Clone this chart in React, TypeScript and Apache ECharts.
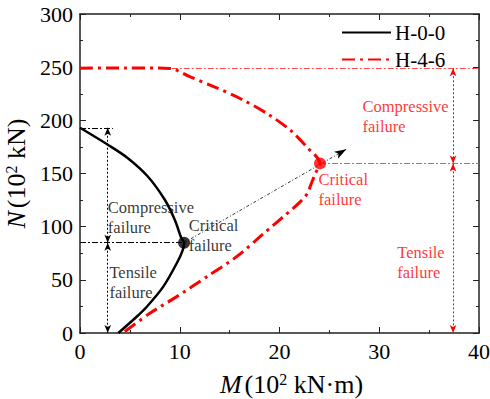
import React, { useEffect, useRef } from "react";
import * as echarts from "echarts";

// H-0-0 interaction curve (M in 10^2 kN·m, N in 10^2 kN)
const h00M = [0, 2.8, 4.8, 6.8, 8.5, 9.5, 10.15, 10.43, 10.3, 9.7, 8.35, 6.7, 5.68, 3.84];
const h00N = [193, 177, 164.4, 147.2, 125.3, 106.5, 89.5, 84.9, 78, 65.6, 43.6, 24.7, 15.3, 0];
// H-4-6 interaction curve
const h46M = [0, 4.5, 9.0, 11.0, 13.4, 16.0, 18.7, 21.05, 22.7, 24.06, 23.6, 23.2, 22.8, 22.2, 21.4, 20.4, 19.4, 18.4, 15.7, 13.0, 9.7, 7.0, 4.3];
const h46N = [249, 249.3, 248.8, 241.1, 231.7, 220.8, 206.7, 191, 175.3, 159.5, 150, 140.8, 131.4, 124.5, 117.5, 109.5, 101.5, 93.5, 71.8, 54.7, 34.2, 18.5, 0];
// critical (balanced) failure points
const critH00 = [10.43, 84.9];
const critH46 = [24.06, 159.5];
// squash loads
const squashH00 = 193;
const squashH46 = 249;
const seriesNames = ["H-0-0", "H-4-6"];

const FONT = "Liberation Serif";
const F = { fontFamily: FONT, fontStyle: "normal", fontWeight: "normal" };

export default function App() {
  const ref = useRef<HTMLDivElement>(null);
  useEffect(() => {
    if (!ref.current) return;
    const chart = echarts.init(ref.current, null, { renderer: "svg" });
    const blk = "#000";
    const red = "#ff0000";
    const thinRed = "#ff4d4d";
    const dashDot = [6, 2, 2, 2];
    const dotted = [2, 2];
    const seg = (a: number[], b: number[], color: string, type: any, s0: string, s1: string, width = 1) => [
      { coord: a, symbol: s0, symbolSize: [5, 8], lineStyle: { color, type, width } },
      { coord: b, symbol: s1, symbolSize: [5, 8] },
    ];
    const textStyle = (color: string) => ({
      show: true,
      position: [0, 0],
      align: "left",
      verticalAlign: "top",
      color,
      ...F,
      fontSize: 16.5,
      lineHeight: 20,
    });
    const rich = {
      i: { ...F, fontSize: 26, fontStyle: "italic", color: "#000", verticalAlign: "bottom" },
      n: { ...F, fontSize: 26, color: "#000", verticalAlign: "bottom" },
      s: { ...F, fontSize: 16, color: "#000", verticalAlign: "bottom", padding: [0, 0, 10, 0] },
    };
    const axisCommon = {
      min: 0,
      axisLine: { show: true, onZero: false, lineStyle: { color: "#222", width: 1.5 } },
      axisTick: { show: true, inside: true, length: 6, lineStyle: { color: "#222" } },
      minorTick: { show: true, splitNumber: 2, length: 3, lineStyle: { color: "#222" } },
      splitLine: { show: false },
    };
    chart.setOption({
      animation: false,
      textStyle: { ...F },
      grid: { left: 80, right: 11, top: 14, bottom: 66, outerBoundsMode: "none", containLabel: false },
      legend: {
        data: seriesNames,
        orient: "vertical",
        left: 336,
        top: 17,
        itemWidth: 49,
        itemHeight: 14,
        itemGap: 6,
        itemStyle: { opacity: 0 },
        textStyle: { ...F, fontSize: 21, color: "#000", padding: [0, 0, 0, -1] },
      },
      xAxis: [
        {
          ...axisCommon,
          type: "value",
          max: 40,
          interval: 10,
          axisLabel: { color: "#000", ...F, fontSize: 22, margin: 7 },
          name: "{i|M} {n|(10}{s|2}{n| kN·m)}",
          nameLocation: "middle",
          nameGap: 38,
          nameTextStyle: { ...F, padding: [0, 0, 0, 24], rich },
        },
        {
          ...axisCommon,
          type: "value",
          position: "top",
          max: 40,
          interval: 10,
          axisLabel: { show: false },
        },
      ],
      yAxis: [
        {
          ...axisCommon,
          type: "value",
          max: 300,
          interval: 50,
          axisLabel: { color: "#000", ...F, fontSize: 22, margin: 7 },
          name: "{i|N} {n|(10}{s|2}{n| kN)}",
          nameLocation: "middle",
          nameGap: 24,
          nameRotate: 90,
          nameTextStyle: { ...F, padding: [0, 0, 0, 0], rich },
        },
        {
          ...axisCommon,
          type: "value",
          position: "right",
          max: 300,
          interval: 50,
          axisLabel: { show: false },
        },
      ],
      series: [
        {
          name: seriesNames[0],
          type: "line",
          data: h00M.map((m, i) => [m, h00N[i]]),
          smooth: 0.3,
          symbol: "none",
          lineStyle: { color: blk, width: 2.5 },
          itemStyle: { color: blk },
          z: 5,
        },
        {
          name: seriesNames[1],
          type: "line",
          data: h46M.map((m, i) => [m, h46N[i]]),
          smooth: 0.3,
          symbol: "none",
          lineStyle: { color: red, width: 3, type: [13, 5, 3, 5] },
          itemStyle: { color: red },
          z: 5,
        },
        {
          name: "critical",
          type: "scatter",
          data: [
            { value: critH00, itemStyle: { color: blk } },
            { value: critH46, itemStyle: { color: red } },
          ],
          symbolSize: 12,
          z: 6,
        },
        {
          name: "annotations",
          type: "line",
          data: [],
          symbol: "none",
          silent: true,
          markLine: {
            silent: true,
            label: { show: false },
            symbol: ["none", "none"],
            data: [
              seg([0, squashH00], [3.3, squashH00], blk, dashDot, "none", "none"),
              seg([0, critH00[1]], critH00, blk, dashDot, "none", "none"),
              seg([2.78, squashH00], [2.78, critH00[1]], blk, dotted, "arrow", "arrow"),
              seg([2.78, critH00[1]], [2.78, 0], blk, dotted, "arrow", "arrow"),
              [
                { coord: critH00, symbol: "none", lineStyle: { color: blk, type: [3, 2, 1, 2], width: 0.8 } },
                { coord: [26.7, 172.8], symbol: "arrow", symbolSize: [6, 12] },
              ],
              seg([9.2, squashH46], [40, squashH46], thinRed, dashDot, "none", "none"),
              seg(critH46, [40, critH46[1]], thinRed, dashDot, "none", "none"),
              seg([37.4, squashH46], [37.4, critH46[1]], red, dotted, "arrow", "arrow"),
              seg([37.4, critH46[1]], [37.4, 0], red, dotted, "arrow", "arrow"),
            ],
          },
        },
        {
          name: "labels",
          type: "scatter",
          symbolSize: 1,
          itemStyle: { color: "transparent" },
          silent: true,
          z: 7,
          data: [
            { value: [2.84, 127], label: { ...textStyle(blk), formatter: "Compressive\nfailure" } },
            { value: [10.96, 109.6], label: { ...textStyle(blk), formatter: "Critical\nfailure" } },
            { value: [3.0, 66], label: { ...textStyle(blk), formatter: "Tensile\nfailure" } },
            { value: [28.37, 222.3], label: { ...textStyle(red), formatter: "Compressive\nfailure" } },
            { value: [23.96, 153.3], label: { ...textStyle(red), formatter: "Critical\nfailure" } },
            { value: [31.85, 85.0], label: { ...textStyle(red), formatter: "Tensile\nfailure" } },
          ],
        },
      ],
    });
    return () => chart.dispose();
  }, []);
  return (
    <div
      ref={ref}
      style={{ position: "absolute", left: 0, top: 0, width: 490, height: 399, background: "#fff" }}
    />
  );
}
